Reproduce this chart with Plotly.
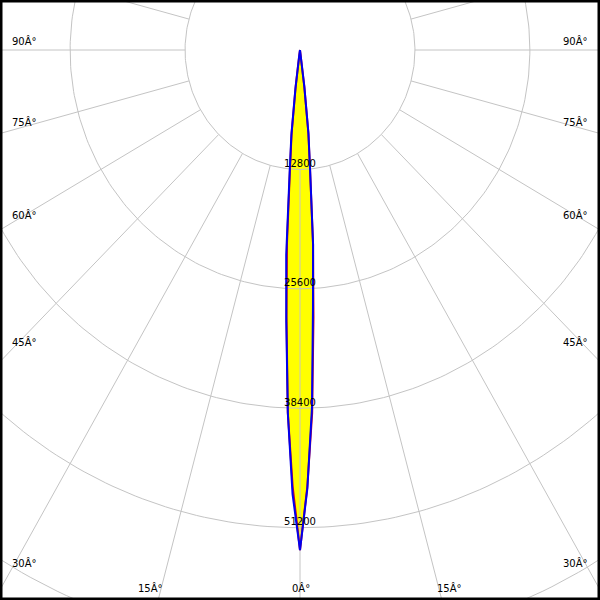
import numpy as np
import plotly.graph_objects as go

# ---------------- data ----------------
GAMMA_DEG = [0, 1, 2, 3, 4, 5, 6, 7, 8, 9, 10]            # angle from nadir
C180_INTENSITY = [53600, 47600, 38900, 29200, 22000, 13300, 9200, 4200, 700, 100, 0]   # left half (blue)
C0_INTENSITY = [53600, 47000, 38300, 27600, 20900, 12900, 9000, 4000, 600, 100, 0]     # right half (blue)
C90_270_INTENSITY = [53600, 46800, 38900, 28700, 20800, 12800, 8900, 3900, 600, 100, 0]  # red plane
RING_VALUES = [12800, 25600, 38400, 51200, 64000, 76800]
RING_LABELS = ["12800", "25600", "38400", "51200"]
SPOKE_ANGLES = list(range(0, 360, 15))
SIDE_LABEL_ANGLES = [30, 45, 60, 75, 90]
BOTTOM_LABEL_ANGLES = [0, 15]
DEG = "Â°"

# ---------------- layout constants ----------------
W = H = 600
KX, KY = 0.00898, 0.00933          # px per cd
CX, CY = 300, 50                   # centre in px
X_RANGE = [(0 - CX) / KX, (W - CX) / KX]
Y_RANGE = [-(H - CY) / KY, CY / KY]
GRID = "#c4c4c4"
FONT = dict(family="DejaVu Sans", size=10, color="black")


def pol(r, g):
    g = np.radians(np.asarray(g, dtype=float))
    r = np.asarray(r, dtype=float)
    return r * np.sin(g), -r * np.cos(g)


fig = go.Figure()

# yellow fill of C0-C180 curve
g_full = [-g for g in GAMMA_DEG[::-1]] + GAMMA_DEG[1:]
i_full = C180_INTENSITY[::-1] + C0_INTENSITY[1:]
bx, by = pol(i_full, g_full)
fig.add_trace(go.Scatter(x=bx, y=by, mode="lines", fill="toself", fillcolor="#ffff00",
                         line=dict(width=0), hoverinfo="skip", showlegend=False))

# grid rings
t = np.arange(0, 361, 1)
for r in RING_VALUES:
    rx, ry = pol(np.full_like(t, r, dtype=float), t)
    fig.add_trace(go.Scatter(x=rx, y=ry, mode="lines", line=dict(color=GRID, width=1),
                             hoverinfo="skip", showlegend=False))
# spokes
for a in SPOKE_ANGLES:
    sx, sy = pol([RING_VALUES[0], 200000], [a, a])
    fig.add_trace(go.Scatter(x=sx, y=sy, mode="lines", line=dict(color=GRID, width=1),
                             hoverinfo="skip", showlegend=False))

# red C90-C270 curve
g_red = [-g for g in GAMMA_DEG[::-1]] + GAMMA_DEG[1:]
i_red = C90_270_INTENSITY[::-1] + C90_270_INTENSITY[1:]
rx_, ry_ = pol(i_red, g_red)
fig.add_trace(go.Scatter(x=rx_, y=ry_, mode="lines", line=dict(color="#d00020", width=2),
                         hoverinfo="skip", showlegend=False))
# blue C0-C180 curve
fig.add_trace(go.Scatter(x=bx, y=by, mode="lines", line=dict(color="#0000ee", width=2),
                         hoverinfo="skip", showlegend=False))

# ring value labels
n_lab = len(RING_LABELS)
lx, ly = pol(RING_VALUES[:n_lab], [0] * n_lab)
fig.add_trace(go.Scatter(x=lx, y=ly, mode="text", text=RING_LABELS, textposition="top center",
                         textfont=FONT, hoverinfo="skip", showlegend=False, cliponaxis=True))

# angle labels
ann = []
for a in SIDE_LABEL_ANGLES:
    g = np.radians(a)
    r = (CX - 10) / (np.sin(g) * KX)
    py = CY + r * np.cos(g) * KY - 9
    for side in (-1, 1):
        px = CX + side * (CX - 10)
        ann.append(dict(x=px / W, y=1 - py / H, xref="paper", yref="paper",
                        text=f"{a}{DEG}", showarrow=False, font=FONT,
                        xanchor="left" if side < 0 else "right", yanchor="middle"))
for a in BOTTOM_LABEL_ANGLES:
    g = np.radians(a)
    r = (H - 2 - CY) / (np.cos(g) * KY)
    dx = r * np.sin(g) * KX
    sides = (1,) if a == 0 else (-1, 1)
    for side in sides:
        px = CX + side * (dx + (8 if a else 1))
        ann.append(dict(x=px / W, y=1 - 588 / H, xref="paper", yref="paper",
                        text=f"{a}{DEG}", showarrow=False, font=FONT,
                        xanchor="center", yanchor="middle"))

fig.update_layout(
    width=W, height=H, margin=dict(l=0, r=0, t=0, b=0),
    paper_bgcolor="white", plot_bgcolor="white",
    xaxis=dict(range=X_RANGE, visible=False, fixedrange=True),
    yaxis=dict(range=Y_RANGE, visible=False, fixedrange=True),
    annotations=ann,
    shapes=[dict(type="rect", xref="paper", yref="paper", x0=0, y0=0, x1=1, y1=1,
                 line=dict(color="black", width=5), layer="above")],
    showlegend=False,
)
fig.write_html("out.html", config={"displayModeBar": False},
               post_script="document.body.style.margin='0';document.body.style.overflow='hidden';")
